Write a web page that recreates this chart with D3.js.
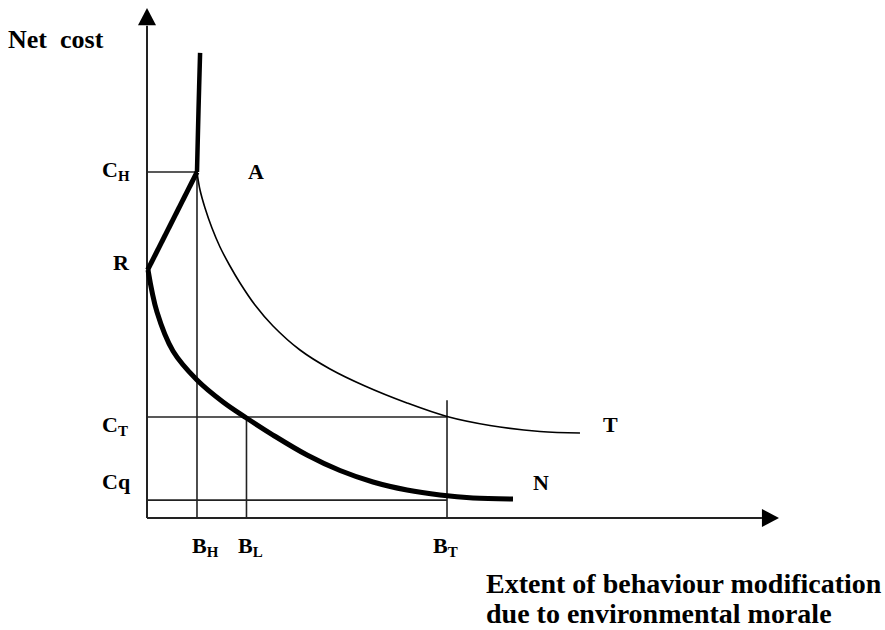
<!DOCTYPE html>
<html>
<head>
<meta charset="utf-8">
<script src="https://cdn.jsdelivr.net/npm/d3@7"></script>
<style>
  body { margin: 0; background: #fff; }
</style>
</head>
<body>
<svg id="chart" width="885" height="630"></svg>
<script>
// values in chart units (0..100 on both axes)
const curveT = [[7.91, 67.84], [8.39, 64.31], [9.18, 60.78], [10.28, 56.86], [11.55, 53.14],
  [13.13, 49.41], [14.72, 46.08], [17.09, 41.76], [19.94, 37.65], [24.21, 32.94],
  [28.96, 29.22], [34.49, 25.88], [41.14, 22.55], [47.47, 19.9], [54.27, 18.14],
  [62.18, 16.96], [68.51, 16.67]];
const curveN = [[0.16, 48.63], [1.58, 40.39], [4.11, 32.75], [7.91, 27.06], [12.03, 22.75],
  [15.74, 19.61], [19.94, 16.27], [25.32, 12.35], [30.54, 9.31], [35.76, 7.06],
  [41.14, 5.49], [46.36, 4.51], [51.58, 3.92], [57.91, 3.73]];
const riseH = [[8.4, 91.2], [8.15, 80], [7.91, 67.84]];
const jumpR = [[7.91, 67.84], [0.1, 48.63]];

const bLevels = { BH: 7.91, BL: 15.74, BT: 47.47 };
const cLevels = { CH: 67.84, R: 48.63, CT: 19.8, Cq: 3.5 };
const bTop = 23.1;

const xLabels = [["B", "H", bLevels.BH], ["B", "L", bLevels.BL], ["B", "T", bLevels.BT]];
const yLabels = [["C", "H", cLevels.CH], ["R", "", cLevels.R], ["C", "T", cLevels.CT], ["Cq", "", cLevels.Cq]];

// label placement (pixels)
const xLabelShift = [-5, -8.5, -14];
const yLabelPos = [[102, 5], [113, 0], [102, 15], [102, -11]];

const fontStack = "Liberation Serif";

const svg = d3.select("#chart");
const x = d3.scaleLinear().domain([0, 100]).range([147, 779]);
const y = d3.scaleLinear().domain([0, 100]).range([518, 8]);

const line = d3.line().x(d => x(d[0])).y(d => y(d[1]));
const smooth = d3.line().x(d => x(d[0])).y(d => y(d[1])).curve(d3.curveCatmullRom.alpha(0.5));

// guide lines
const guides = [
  [[0, cLevels.CH], [bLevels.BH, cLevels.CH]],
  [[bLevels.BH, 0], [bLevels.BH, cLevels.CH]],
  [[0, cLevels.CT], [bLevels.BT, cLevels.CT]],
  [[bLevels.BL, 0], [bLevels.BL, cLevels.CT]],
  [[bLevels.BT, 0], [bLevels.BT, bTop]],
  [[0, cLevels.Cq], [bLevels.BT, cLevels.Cq]]
];
svg.selectAll(".guide").data(guides).enter().append("path")
  .attr("class", "guide")
  .attr("d", line)
  .attr("fill", "none")
  .attr("stroke", "#222")
  .attr("stroke-width", 1.6);

// axes with arrow heads
svg.append("path")
  .attr("d", line([[0, 0], [0, 96.5]]))
  .attr("stroke", "#222").attr("stroke-width", 2).attr("fill", "none");
svg.append("path")
  .attr("d", line([[0, 0], [97.3, 0]]))
  .attr("stroke", "#222").attr("stroke-width", 2).attr("fill", "none");
svg.append("path")
  .attr("d", `M${x(0)},${y(100)}L${x(0) - 9},${y(96.6)}L${x(0) + 9},${y(96.6)}Z`)
  .attr("fill", "#000");
svg.append("path")
  .attr("d", `M${x(100)},${y(0)}L${x(97.3)},${y(0) - 9}L${x(97.3)},${y(0) + 9}Z`)
  .attr("fill", "#000");

// curves
svg.append("path").attr("d", smooth(curveT))
  .attr("fill", "none").attr("stroke", "#000").attr("stroke-width", 1.6);
svg.append("path").attr("d", smooth(curveN))
  .attr("fill", "none").attr("stroke", "#000").attr("stroke-width", 5);
svg.append("path").attr("d", smooth(riseH))
  .attr("fill", "none").attr("stroke", "#000").attr("stroke-width", 4.5);
svg.append("path").attr("d", line(jumpR))
  .attr("fill", "none").attr("stroke", "#000").attr("stroke-width", 5);

// labels
function label(px, py, main, sub, size) {
  const t = svg.append("text")
    .attr("x", px).attr("y", py)
    .style("font-family", fontStack).style("font-weight", "bold")
    .style("font-size", size + "px")
    .text(main);
  if (sub) t.append("tspan").attr("dy", 4).style("font-size", (size * 0.68) + "px").text(sub);
  return t;
}

xLabels.forEach((d, i) => label(x(d[2]) + xLabelShift[i], 553, d[0], d[1], 22));
yLabels.forEach((d, i) => label(yLabelPos[i][0], y(d[2]) + yLabelPos[i][1], d[0], d[1], 22));

label(x(bLevels.BH) + 51, y(cLevels.CH) + 7, "A", "", 22);
label(x(curveT[curveT.length - 1][0]) + 23, y(curveT[curveT.length - 1][1]) - 1, "T", "", 22);
label(x(curveN[curveN.length - 1][0]) + 20, y(curveN[curveN.length - 1][1]) - 9, "N", "", 22);

label(8, 48, "Net\u00a0\u00a0cost", "", 26);
label(486, 593, "Extent of behaviour modification", "", 28);
label(486, 623, "due to environmental morale", "", 28);
</script>
</body>
</html>
